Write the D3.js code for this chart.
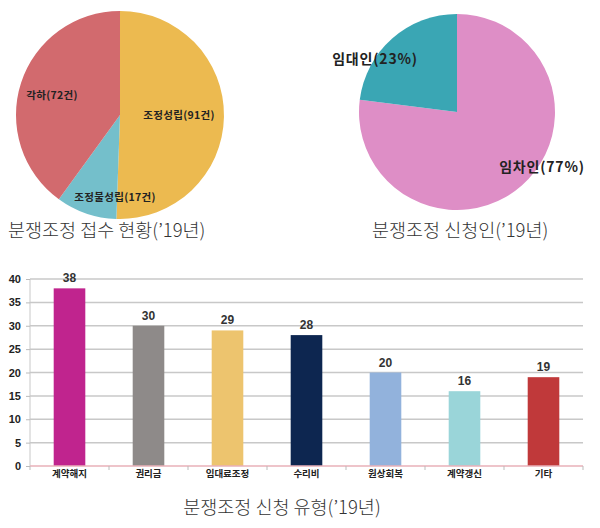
<!DOCTYPE html>
<html>
<head>
<meta charset="utf-8">
<script src="https://cdn.jsdelivr.net/npm/d3@7"></script>
<style>
  body { margin: 0; background: #fff; }
  svg { display: block; font-family: "Noto Sans CJK KR", "Noto Sans", sans-serif; }
</style>
</head>
<body>
<svg id="chart" width="600" height="528"></svg>
<script>
// pie 1: 접수 현황
var caseNames = ["조정성립", "조정불성립", "각하"];
var caseValues = [91, 17, 72];
var caseColors = ["#ecba50", "#74bfcb", "#d26a6e"];

// pie 2: 신청인
var applicantNames = ["임차인", "임대인"];
var applicantValues = [77, 23];
var applicantColors = ["#de8ec6", "#3aa6b4"];

// bars: 신청 유형
var typeNames = ["계약해지", "권리금", "임대료조정", "수리비", "원상회복", "계약갱신", "기타"];
var typeValues = [38, 30, 29, 28, 20, 16, 19];
var typeColors = ["#c0248e", "#8e8a89", "#edc46e", "#0d2650", "#92b2dc", "#9ad5d9", "#c0393a"];
var yTicks = [0, 5, 10, 15, 20, 25, 30, 35, 40];

var svg = d3.select("#chart");

function drawPie(cx, cy, r, names, values, colors, labelPos, labelFn, fontSize, spacing){
    var g = svg.append("g").attr("transform", "translate(" + cx + "," + cy + ")");
    var pie = d3.pie().sort(null).value(function(d){ return d; });
    var arc = d3.arc().innerRadius(0).outerRadius(r);
    var arcs = pie(values);
    g.selectAll("path").data(arcs).enter().append("path")
        .attr("d", arc)
        .attr("fill", function(d, i){ return colors[i]; });
    g.selectAll("text").data(arcs).enter().append("text")
        .attr("x", function(d, i){ return labelPos[i][0]; })
        .attr("y", function(d, i){ return labelPos[i][1]; })
        .attr("text-anchor", "middle")
        .attr("dominant-baseline", "central")
        .attr("font-size", fontSize)
        .attr("font-weight", "bold")
        .attr("letter-spacing", spacing)
        .attr("fill", "#222")
        .text(function(d, i){ return labelFn(names[i], values[i]); });
}

drawPie(120, 115, 104, caseNames, caseValues, caseColors,
    [[59, -1], [-5, 81], [-68, -21]],
    function(n, v){ return n + "(" + v + "건)"; }, 10.5, 0.3);

drawPie(457, 112, 98, applicantNames, applicantValues, applicantColors,
    [[85, 54], [-82, -54]],
    function(n, v){ return n + "(" + v + "%)"; }, 14, 0.8);

svg.append("text").attr("x", 8).attr("y", 237)
    .attr("font-size", 18.5).attr("font-weight", 300).attr("fill", "#333")
    .text("분쟁조정 접수 현황(’19년)");
svg.append("text").attr("x", 372).attr("y", 237)
    .attr("font-size", 18.5).attr("font-weight", 300).attr("fill", "#333")
    .text("분쟁조정 신청인(’19년)");

// bar chart
var plotLeft = 30, plotRight = 583, plotTop = 279, plotBottom = 466;
var x = d3.scaleBand().domain(typeNames).range([plotLeft, plotRight]).paddingInner(0.6).paddingOuter(0.3);
var y = d3.scaleLinear().domain([0, 40]).range([plotBottom, plotTop]);

svg.append("g").selectAll("line").data(yTicks.slice(1)).enter().append("line")
    .attr("x1", plotLeft).attr("x2", plotRight)
    .attr("y1", function(d){ return y(d); }).attr("y2", function(d){ return y(d); })
    .attr("stroke", "#c8c8c8").attr("stroke-width", 1.5);

svg.append("line").attr("x1", plotLeft).attr("x2", plotLeft).attr("y1", plotTop).attr("y2", plotBottom)
    .attr("stroke", "#c8c8c8").attr("stroke-width", 1);

var yAxis = svg.append("g").attr("transform", "translate(" + plotLeft + ",0)")
    .call(d3.axisLeft(y).tickValues(yTicks).tickSize(4).tickPadding(5));
yAxis.select(".domain").remove();
yAxis.selectAll("line").attr("stroke", "#bbb");
yAxis.selectAll("text").attr("font-size", 11).attr("font-weight", "bold").attr("fill", "#222")
    .attr("font-family", "Liberation Sans, Arial, sans-serif");

svg.selectAll(".bar").data(typeValues).enter().append("rect")
    .attr("class", "bar")
    .attr("x", function(d, i){ return x(typeNames[i]); })
    .attr("width", x.bandwidth())
    .attr("y", function(d){ return y(d); })
    .attr("height", function(d){ return y(0) - y(d); })
    .attr("fill", function(d, i){ return typeColors[i]; });

svg.selectAll(".val").data(typeValues).enter().append("text")
    .attr("class", "val")
    .attr("x", function(d, i){ return x(typeNames[i]) + x.bandwidth() / 2; })
    .attr("y", function(d){ return y(d) - 6; })
    .attr("text-anchor", "middle")
    .attr("font-size", 12).attr("font-weight", "bold").attr("fill", "#333")
    .attr("font-family", "Liberation Sans, Arial, sans-serif")
    .text(function(d){ return d; });

// baseline with category ticks
svg.append("line").attr("x1", plotLeft).attr("x2", plotRight).attr("y1", plotBottom).attr("y2", plotBottom)
    .attr("stroke", "#e8b0b8").attr("stroke-width", 1.5);
var bounds = d3.range(typeNames.length + 1).map(function(i){ return plotLeft + i * (plotRight - plotLeft) / typeNames.length; });
svg.selectAll(".ctick").data(bounds).enter().append("line")
    .attr("class", "ctick")
    .attr("x1", function(d){ return d; }).attr("x2", function(d){ return d; })
    .attr("y1", plotBottom).attr("y2", plotBottom + 4)
    .attr("stroke", "#bbb");

svg.selectAll(".cat").data(typeNames).enter().append("text")
    .attr("class", "cat")
    .attr("x", function(d){ return x(d) + x.bandwidth() / 2; })
    .attr("y", 477)
    .attr("text-anchor", "middle")
    .attr("font-size", 9.5).attr("font-weight", "bold").attr("fill", "#222")
    .text(function(d){ return d; });

svg.append("text").attr("x", 282).attr("y", 514)
    .attr("text-anchor", "middle")
    .attr("font-size", 18.5).attr("font-weight", 300).attr("fill", "#333")
    .text("분쟁조정 신청 유형(’19년)");
</script>
</body>
</html>
